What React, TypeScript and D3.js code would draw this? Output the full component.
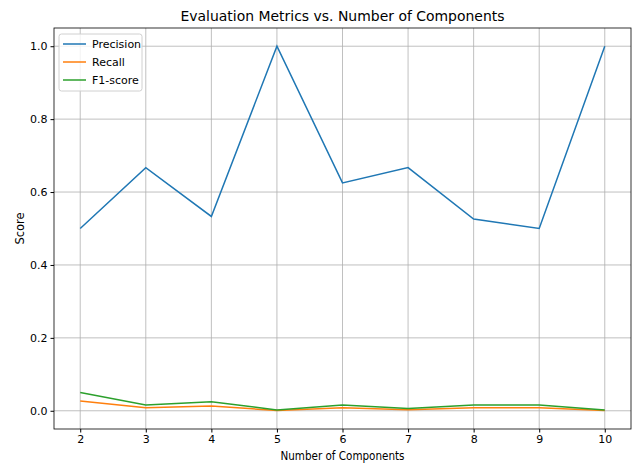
import React, { useEffect, useRef } from 'react';
import * as d3 from 'd3';

const components = [2, 3, 4, 5, 6, 7, 8, 9, 10];
const precision = [0.5, 0.667, 0.533, 1.0, 0.625, 0.667, 0.526, 0.5, 1.0];
const recall = [0.027, 0.008, 0.013, 0.001, 0.008, 0.003, 0.008, 0.008, 0.001];
const f1 = [0.05, 0.016, 0.025, 0.002, 0.016, 0.006, 0.016, 0.016, 0.002];
const yTicks = [0, 0.2, 0.4, 0.6, 0.8, 1.0];

const seriesList = [
  { name: 'Precision', values: precision, color: '#1f77b4' },
  { name: 'Recall', values: recall, color: '#ff7f0e' },
  { name: 'F1-score', values: f1, color: '#2ca02c' },
];

const App = () => {
  const svgRef = useRef<SVGSVGElement>(null);

  useEffect(() => {
    const width = 637;
    const height = 465;
    const m = { left: 54, right: 6, top: 28, bottom: 36 };
    const font = 'DejaVu Sans, sans-serif';

    const svg = d3.select(svgRef.current).attr('width', width).attr('height', height);
    svg.selectAll('*').remove();

    const x = d3.scaleLinear().domain([1.6, 10.4]).range([m.left, width - m.right]);
    const y = d3.scaleLinear().domain([-0.05, 1.05]).range([height - m.bottom, m.top]);

    svg.append('rect').attr('width', width).attr('height', height).attr('fill', '#fff');

    // grid
    const grid = svg.append('g').attr('stroke', '#b0b0b0').attr('stroke-width', 0.8);
    grid.selectAll('.gx').data(components).join('line')
      .attr('x1', (d) => x(d)).attr('x2', (d) => x(d))
      .attr('y1', m.top).attr('y2', height - m.bottom);
    grid.selectAll('.gy').data(yTicks).join('line')
      .attr('y1', (d) => y(d)).attr('y2', (d) => y(d))
      .attr('x1', m.left).attr('x2', width - m.right);

    // lines
    const line = d3.line<number>()
      .x((d, i) => x(components[i]))
      .y((d) => y(d));
    svg.selectAll('.series').data(seriesList).join('path')
      .attr('d', (s) => line(s.values))
      .attr('fill', 'none')
      .attr('stroke', (s) => s.color)
      .attr('stroke-width', 1.5);

    // axes
    const xAxis = d3.axisBottom(x).tickValues(components).tickFormat(d3.format('d')).tickSize(3.5).tickPadding(3);
    const yAxis = d3.axisLeft(y).tickValues(yTicks).tickFormat(d3.format('.1f')).tickSize(3.5).tickPadding(3);
    const gx = svg.append('g').attr('transform', `translate(0,${height - m.bottom})`).call(xAxis);
    const gy = svg.append('g').attr('transform', `translate(${m.left},0)`).call(yAxis);
    [gx, gy].forEach((g) => {
      g.select('.domain').remove();
      g.selectAll('text').attr('font-family', font).attr('font-size', 11).attr('fill', '#000');
      g.selectAll('line').attr('stroke', '#000');
    });

    svg.append('rect')
      .attr('x', m.left).attr('y', m.top)
      .attr('width', width - m.left - m.right).attr('height', height - m.top - m.bottom)
      .attr('fill', 'none').attr('stroke', '#000').attr('stroke-width', 0.8);

    // labels
    svg.append('text').attr('x', (m.left + width - m.right) / 2).attr('y', 21)
      .attr('text-anchor', 'middle').attr('font-family', font).attr('font-size', 13.5)
      .attr('textLength', 324).attr('lengthAdjust', 'spacingAndGlyphs')
      .text('Evaluation Metrics vs. Number of Components');
    svg.append('text').attr('x', (m.left + width - m.right) / 2).attr('y', 460)
      .attr('text-anchor', 'middle').attr('font-family', font).attr('font-size', 11.5)
      .attr('textLength', 124).attr('lengthAdjust', 'spacingAndGlyphs')
      .text('Number of Components');
    svg.append('text').attr('transform', `translate(24,${y(0.5)}) rotate(-90)`)
      .attr('text-anchor', 'middle').attr('font-family', font).attr('font-size', 11.5)
      .text('Score');

    // legend
    const lg = svg.append('g').attr('transform', 'translate(59,34)');
    lg.append('rect').attr('width', 83).attr('height', 57).attr('rx', 2.5)
      .attr('fill', '#fff').attr('fill-opacity', 0.8).attr('stroke', '#d0d0d0');
    seriesList.forEach((s, i) => {
      const yy = 10 + i * 18;
      lg.append('line').attr('x1', 4).attr('x2', 27).attr('y1', yy).attr('y2', yy)
        .attr('stroke', s.color).attr('stroke-width', 1.5);
      lg.append('text').attr('x', 33).attr('y', yy + 4).attr('font-family', font)
        .attr('font-size', 11).text(s.name);
    });
  }, []);

  return <svg ref={svgRef} style={{ position: 'absolute', left: 0, top: 0 }}></svg>;
};

export default App;
